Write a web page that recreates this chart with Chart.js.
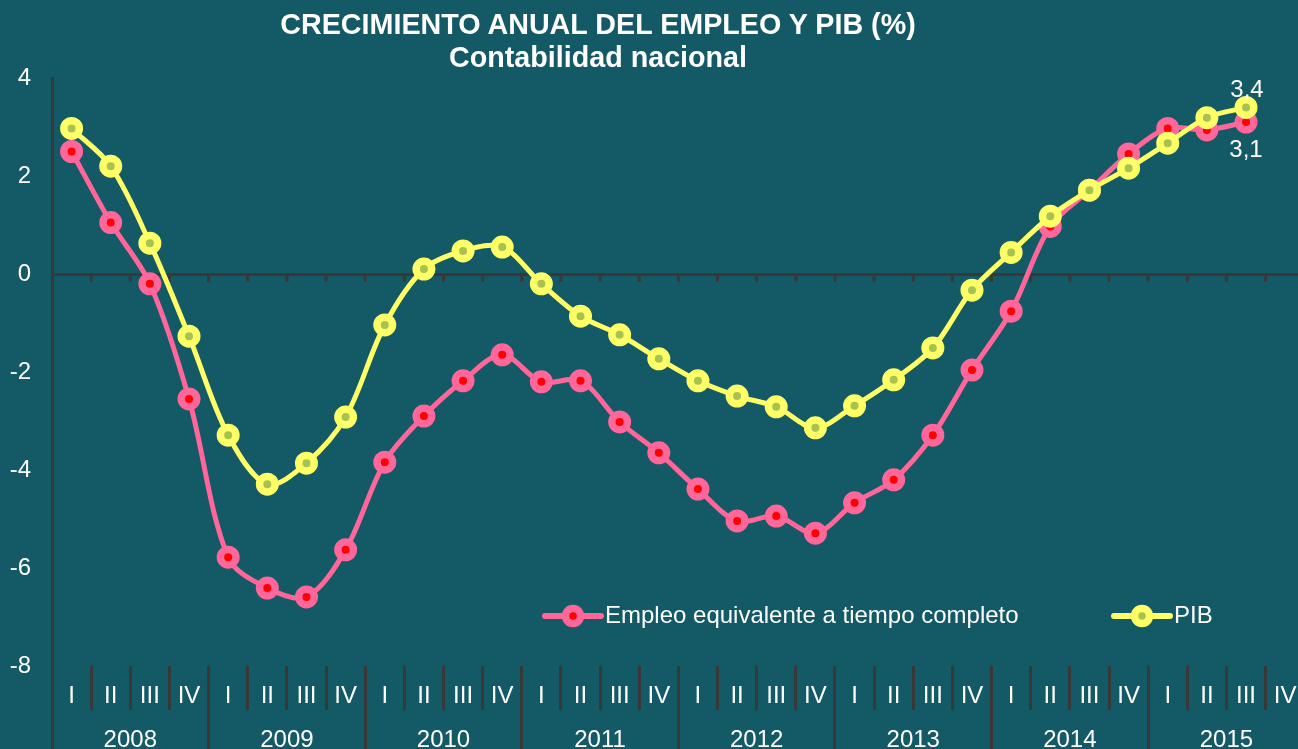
<!DOCTYPE html>
<html>
<head>
<meta charset="utf-8">
<script src="https://cdn.jsdelivr.net/npm/chart.js@4/dist/chart.umd.min.js"></script>
<style>
  html, body { margin: 0; padding: 0; background: #135966; }
  #wrap { position: relative; width: 1298px; height: 749px; overflow: hidden; background: #135966; }
  #titulo {
    position: absolute; left: 0; top: 8px; width: 1196px; text-align: center;
    font-family: 'Liberation Sans', Arial, sans-serif; font-weight: bold;
    font-size: 28.7px; line-height: 33px; color: #ffffff;
  }
  #grafico { position: absolute; left: 0; top: 0; }
</style>
</head>
<body>
<div id="wrap">
  <canvas id="grafico" width="1320" height="760"></canvas>
  <div id="titulo">CRECIMIENTO ANUAL DEL EMPLEO Y PIB (%)<br>Contabilidad nacional</div>
</div>
<script>
// Datos (tasas de variación anual, %)
const anios = ['2008', '2009', '2010', '2011', '2012', '2013', '2014', '2015'];
const trimestres = ['I', 'II', 'III', 'IV'];
const empleo = [
    2.50, 1.05, -0.20, -2.55,
    -5.78, -6.41, -6.59, -5.63,
    -3.84, -2.90, -2.18, -1.65,
    -2.20, -2.18, -3.02, -3.65,
    -4.39, -5.04, -4.94, -5.29,
    -4.67, -4.20, -3.29, -1.96,
    -0.76, 0.97, 1.71, 2.45,
    2.97, 2.94, 3.1
];
const pib = [
    2.97, 2.20, 0.63, -1.27,
    -3.29, -4.29, -3.86, -2.92,
    -1.04, 0.10, 0.47, 0.55,
    -0.20, -0.86, -1.24, -1.73,
    -2.18, -2.49, -2.71, -3.14,
    -2.69, -2.16, -1.51, -0.33,
    0.44, 1.18, 1.71, 2.16,
    2.67, 3.19, 3.4
];
const ticksY = [-8, -6, -4, -2, 0, 2, 4];

// Colores
const colores = {
    fondo: '#135966',
    eje: '#383838',
    texto: '#ffffff',
    rosa: '#ff6699',
    rojo: '#ff0000',
    amarillo: '#ffff66',
    oliva: '#a9c152'
};
const fuente = "'Liberation Sans', Arial, sans-serif";

const etiquetasX = [];
anios.forEach(() => trimestres.forEach(t => etiquetasX.push(t)));

// Marcas pequeñas sobre la línea del cero
const marcasCero = {
    id: 'marcasCero',
    beforeDatasetsDraw(chart) {
        const x = chart.scales.x;
        const y = chart.scales.y;
        const ctx = chart.ctx;
        const paso = x.getPixelForValue(1) - x.getPixelForValue(0);
        const y0 = y.getPixelForValue(0);
        ctx.save();
        ctx.strokeStyle = colores.eje;
        ctx.lineWidth = 3;
        for (let i = 1; i < etiquetasX.length; i++) {
            const px = x.getPixelForValue(0) - paso / 2 + i * paso;
            ctx.beginPath();
            ctx.moveTo(px, y0);
            ctx.lineTo(px, y0 + 8);
            ctx.stroke();
        }
        ctx.restore();
    }
};

// Leyenda y etiquetas del último dato
const extras = {
    id: 'extras',
    afterDatasetsDraw(chart) {
        const ctx = chart.ctx;
        const area = chart.chartArea;
        ctx.save();
        ctx.font = '24px ' + fuente;
        ctx.fillStyle = colores.texto;

        // etiquetas de valor
        const mEmp = chart.getDatasetMeta(0).data;
        const mPib = chart.getDatasetMeta(1).data;
        const pE = mEmp[mEmp.length - 1];
        const pP = mPib[mPib.length - 1];
        ctx.textAlign = 'center';
        ctx.textBaseline = 'middle';
        ctx.fillText(String(pib[pib.length - 1]).replace('.', ','), pP.x + 1, pP.y - 17);
        ctx.fillText(String(empleo[empleo.length - 1]).replace('.', ','), pE.x, pE.y + 28);

        // leyenda
        const yl = area.top + 538;
        const items = [
            { x: 545, texto: 'Empleo equivalente a tiempo completo', linea: colores.rosa, relleno: colores.rojo },
            { x: 1114, texto: 'PIB', linea: colores.amarillo, relleno: colores.oliva }
        ];
        items.forEach(it => {
            ctx.strokeStyle = it.linea;
            ctx.lineWidth = 6;
            ctx.lineCap = 'round';
            ctx.beginPath();
            ctx.moveTo(it.x, yl);
            ctx.lineTo(it.x + 56, yl);
            ctx.stroke();
            ctx.beginPath();
            ctx.arc(it.x + 28, yl, 7.5, 0, Math.PI * 2);
            ctx.fillStyle = it.relleno;
            ctx.fill();
            ctx.lineWidth = 7.5;
            ctx.stroke();
            ctx.fillStyle = colores.texto;
            ctx.textAlign = 'left';
            ctx.fillText(it.texto, it.x + 60, yl);
        });
        ctx.restore();
    }
};

new Chart(document.getElementById('grafico'), {
    type: 'line',
    data: {
        labels: etiquetasX,
        datasets: [
            {
                label: 'Empleo equivalente a tiempo completo',
                data: empleo,
                borderColor: colores.rosa,
                borderWidth: 5,
                pointBackgroundColor: colores.rojo,
                pointBorderColor: colores.rosa,
                pointRadius: 7.75,
                pointBorderWidth: 7.5,
                tension: 0.33,
                order: 2
            },
            {
                label: 'PIB',
                data: pib,
                borderColor: colores.amarillo,
                borderWidth: 5,
                pointBackgroundColor: colores.oliva,
                pointBorderColor: colores.amarillo,
                pointRadius: 7.75,
                pointBorderWidth: 7.5,
                tension: 0.33,
                order: 1
            }
        ]
    },
    options: {
        responsive: false,
        animation: false,
        devicePixelRatio: 1,
        events: [],
        layout: { padding: { top: 78, right: 12, left: 0, bottom: 0 } },
        plugins: {
            legend: { display: false },
            tooltip: { enabled: false },
            title: { display: false }
        },
        scales: {
            y: {
                min: -8,
                max: 4,
                afterBuildTicks: (s) => { s.ticks = ticksY.map(v => ({ value: v })); },
                afterFit: (s) => { s.width = 52; },
                ticks: {
                    color: colores.texto,
                    padding: 21,
                    font: { family: fuente, size: 24 }
                },
                grid: {
                    drawTicks: false,
                    color: (c) => c.tick && c.tick.value === 0 ? colores.eje : 'rgba(0,0,0,0)',
                    lineWidth: 3
                },
                border: { display: true, color: colores.eje, width: 3 }
            },
            x: {
                weight: 0,
                offset: true,
                afterFit: (s) => { s.height = 44; },
                ticks: {
                    color: colores.texto,
                    autoSkip: false,
                    maxRotation: 0,
                    padding: -28,
                    font: { family: fuente, size: 24 }
                },
                grid: {
                    offset: true,
                    drawOnChartArea: false,
                    drawTicks: true,
                    tickLength: 44,
                    color: colores.eje,
                    lineWidth: 3
                },
                border: { display: false }
            },
            x2: {
                type: 'category',
                axis: 'x',
                position: 'bottom',
                weight: 1,
                labels: anios,
                offset: true,
                afterFit: (s) => { s.height = 50; },
                ticks: {
                    color: colores.texto,
                    autoSkip: false,
                    maxRotation: 0,
                    padding: -34,
                    font: { family: fuente, size: 24 }
                },
                grid: {
                    offset: true,
                    drawOnChartArea: false,
                    drawTicks: true,
                    tickLength: 50,
                    color: colores.eje,
                    lineWidth: 3
                },
                border: { display: false }
            }
        }
    },
    plugins: [marcasCero, extras]
});
</script>
</body>
</html>
